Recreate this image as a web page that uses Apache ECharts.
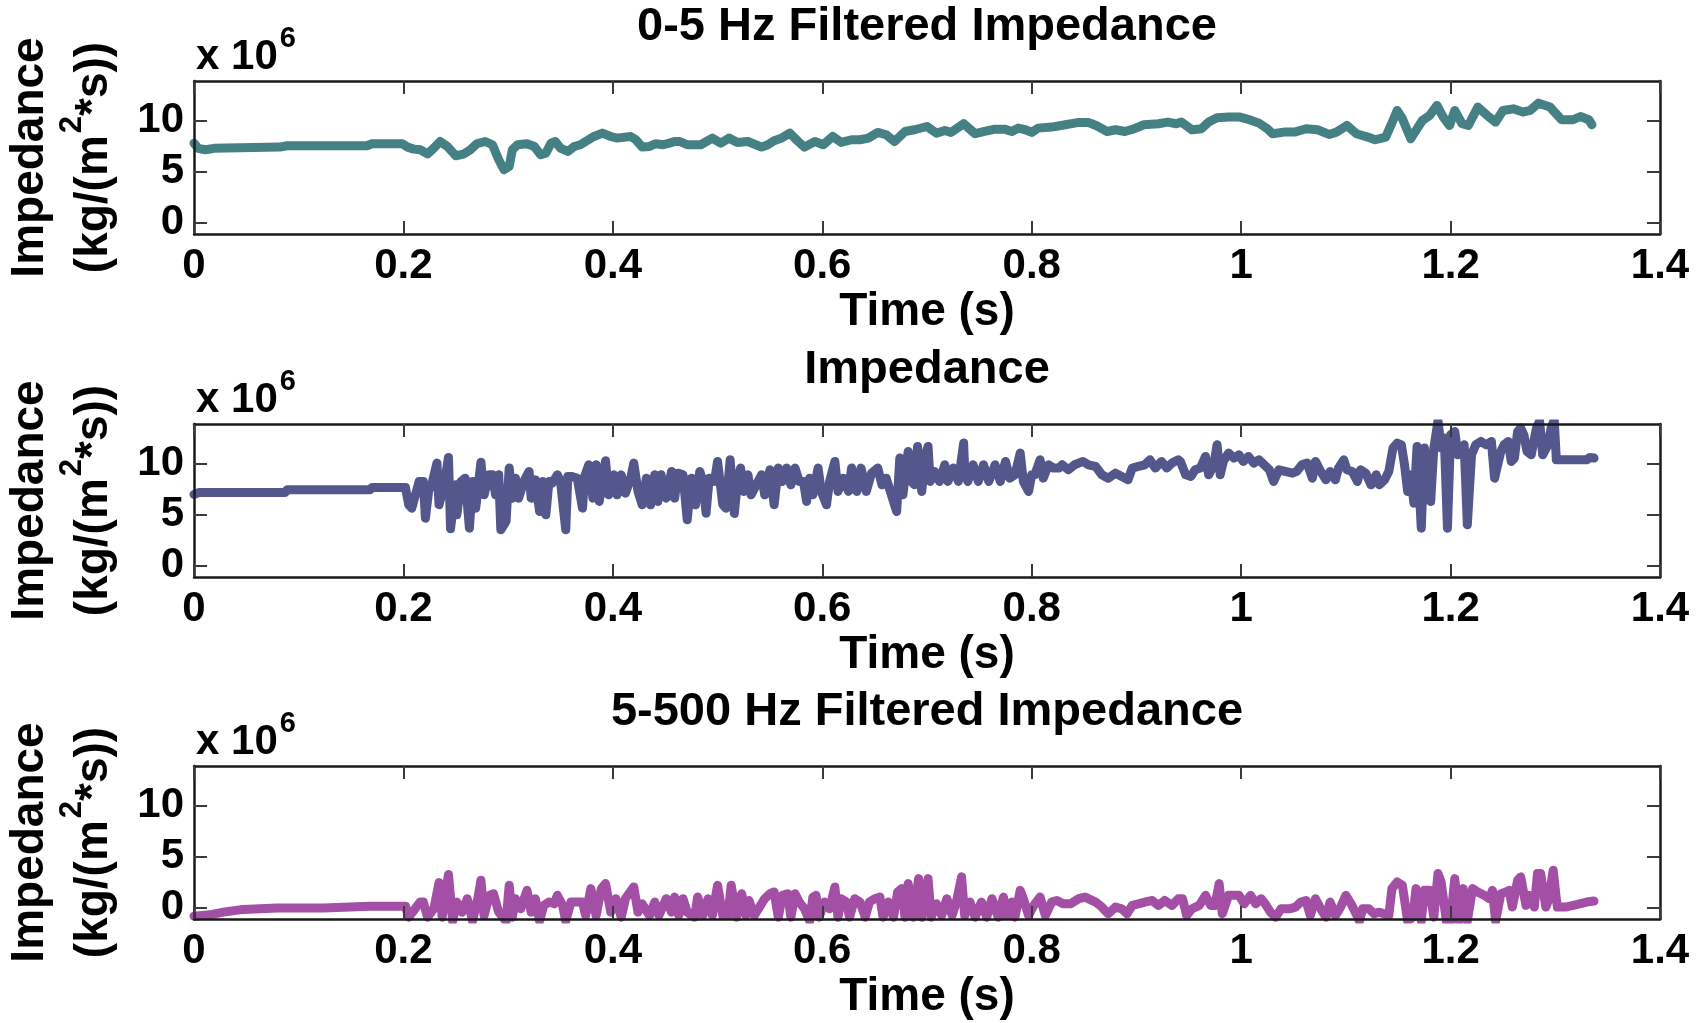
<!DOCTYPE html>
<html>
<head>
<meta charset="utf-8">
<title>Impedance</title>
<script src="https://cdn.jsdelivr.net/npm/echarts@6/dist/echarts.min.js"></script>
<style>
  html, body { margin: 0; padding: 0; background: #fff; }
  #chart { width: 1706px; height: 1023px; }
</style>
</head>
<body>
<div id="chart"></div>
<script>
// Impedance values are in units of 10^6 kg/(m^2*s); each entry is [time (s), impedance].
const lowpassImpedance = [
  [0,7.8],[0.004,7.3],[0.011,7.16],[0.019,7.3],[0.082,7.42],[0.089,7.55],[0.165,7.55],[0.17,7.75],[0.199,7.75],[0.204,7.42],
  [0.21,7.22],[0.216,7.16],[0.223,6.76],[0.229,7.32],[0.235,7.97],[0.242,7.48],[0.25,6.57],[0.258,6.76],[0.264,7.16],[0.27,7.75],
  [0.278,7.97],[0.285,7.65],[0.291,6.18],[0.296,5.2],[0.301,5.52],[0.304,7.16],[0.309,7.65],[0.318,7.75],[0.325,7.48],[0.331,6.67],
  [0.336,6.83],[0.341,7.81],[0.345,7.97],[0.35,7.32],[0.357,6.99],[0.363,7.48],[0.369,7.65],[0.374,7.97],[0.382,8.46],[0.39,8.79],
  [0.398,8.46],[0.404,8.3],[0.417,8.46],[0.422,8.14],[0.428,7.42],[0.435,7.48],[0.441,7.75],[0.448,7.65],[0.454,7.81],[0.459,7.97],
  [0.464,7.97],[0.471,7.65],[0.484,7.65],[0.495,8.3],[0.503,7.81],[0.511,8.3],[0.519,7.88],[0.529,7.97],[0.542,7.42],[0.548,7.65],
  [0.554,8.04],[0.561,8.3],[0.569,8.79],[0.577,7.97],[0.583,7.42],[0.593,7.97],[0.601,7.65],[0.61,8.46],[0.618,7.88],[0.628,8.14],
  [0.636,8.14],[0.644,8.3],[0.653,8.86],[0.661,8.63],[0.669,7.97],[0.679,8.95],[0.688,9.12],[0.7,9.44],[0.709,8.79],[0.717,9.05],
  [0.723,8.86],[0.735,9.71],[0.746,8.73],[0.755,8.95],[0.765,9.18],[0.774,9.18],[0.781,8.95],[0.787,9.28],[0.794,9.12],[0.8,8.86],
  [0.806,9.28],[0.819,9.38],[0.832,9.61],[0.845,9.84],[0.854,9.84],[0.862,9.51],[0.872,8.95],[0.88,9.12],[0.889,8.95],[0.897,9.18],
  [0.907,9.61],[0.921,9.71],[0.93,9.87],[0.938,9.71],[0.943,9.87],[0.953,9.12],[0.962,9.22],[0.969,9.87],[0.977,10.29],[0.988,10.36],
  [0.999,10.36],[1.008,10.1],[1.017,9.77],[1.025,9.22],[1.03,8.73],[1.041,8.89],[1.051,8.89],[1.062,9.22],[1.073,9.12],[1.084,8.66],
  [1.091,8.89],[1.101,9.54],[1.11,8.73],[1.121,8.4],[1.128,8.14],[1.138,8.4],[1.143,9.54],[1.149,11.01],[1.154,10.2],[1.162,8.24],
  [1.167,9.06],[1.173,10.03],[1.18,10.52],[1.187,11.5],[1.193,10.36],[1.199,9.54],[1.204,11.01],[1.211,9.71],[1.217,9.54],[1.226,11.34],
  [1.235,10.52],[1.243,9.87],[1.25,11.01],[1.26,11.17],[1.269,10.85],[1.276,11.01],[1.284,11.73],[1.295,11.34],[1.306,10.1],[1.317,10.1],
  [1.324,10.42],[1.332,10.1],[1.335,9.61]
];

const rawImpedance = [
  [0,7.0],[0.005,7.19],[0.087,7.19],[0.089,7.45],[0.168,7.45],[0.17,7.68],[0.202,7.68],[0.205,5.98],[0.208,5.65],[0.215,8.27],
  [0.219,8.27],[0.221,4.67],[0.224,7.29],[0.227,7.94],[0.232,10.07],[0.234,5.98],[0.239,7.94],[0.243,10.62],[0.245,3.63],[0.25,7.94],
  [0.251,5.0],[0.255,8.27],[0.259,8.59],[0.263,3.69],[0.266,8.27],[0.269,5.65],[0.274,10.16],[0.277,6.96],[0.282,8.92],[0.285,8.92],
  [0.288,6.96],[0.291,8.92],[0.293,3.53],[0.298,4.35],[0.301,9.58],[0.304,6.63],[0.307,8.59],[0.31,6.63],[0.315,8.27],[0.32,9.25],
  [0.322,6.63],[0.326,8.43],[0.33,5.33],[0.333,8.27],[0.336,5.0],[0.339,8.27],[0.342,8.1],[0.347,8.92],[0.35,8.27],[0.355,3.53],
  [0.357,8.76],[0.361,8.76],[0.366,8.59],[0.371,5.65],[0.373,8.76],[0.377,9.9],[0.381,6.63],[0.384,9.9],[0.387,6.31],[0.39,8.27],
  [0.393,10.29],[0.396,6.96],[0.401,8.92],[0.404,6.96],[0.408,8.92],[0.412,7.12],[0.417,8.59],[0.42,10.07],[0.424,7.29],[0.428,5.98],
  [0.432,8.59],[0.436,5.98],[0.44,8.92],[0.443,6.31],[0.446,8.92],[0.451,6.63],[0.456,9.25],[0.459,6.63],[0.462,9.08],[0.467,8.92],
  [0.471,4.51],[0.475,8.59],[0.479,5.98],[0.483,9.25],[0.486,8.27],[0.489,5.16],[0.492,8.59],[0.497,8.27],[0.5,10.23],[0.505,5.98],
  [0.508,5.65],[0.512,10.39],[0.516,5.13],[0.519,8.27],[0.522,9.58],[0.525,7.29],[0.529,8.92],[0.532,6.96],[0.537,7.94],[0.542,8.92],
  [0.545,6.96],[0.55,9.41],[0.554,5.98],[0.558,9.58],[0.562,8.27],[0.566,9.58],[0.57,7.94],[0.574,9.58],[0.578,8.27],[0.582,8.27],
  [0.585,6.31],[0.588,8.59],[0.591,6.96],[0.596,9.58],[0.599,7.29],[0.604,5.98],[0.607,8.27],[0.612,10.23],[0.615,7.29],[0.62,8.59],
  [0.625,7.29],[0.628,9.58],[0.633,7.29],[0.637,9.58],[0.642,7.29],[0.647,9.08],[0.653,9.58],[0.657,7.94],[0.661,8.59],[0.666,6.96],
  [0.671,5.33],[0.674,10.56],[0.677,6.96],[0.682,11.21],[0.685,8.27],[0.688,7.94],[0.691,11.7],[0.695,7.29],[0.698,10.56],[0.701,11.7],
  [0.703,8.27],[0.707,9.25],[0.712,8.27],[0.717,9.9],[0.72,8.27],[0.725,9.58],[0.73,8.27],[0.735,12.03],[0.736,9.25],[0.739,8.27],
  [0.744,9.9],[0.749,8.27],[0.754,9.9],[0.759,8.27],[0.765,9.9],[0.77,8.27],[0.775,10.23],[0.779,8.59],[0.784,8.92],[0.789,11.05],
  [0.792,8.27],[0.797,7.29],[0.8,8.92],[0.803,8.92],[0.808,10.39],[0.811,8.59],[0.816,9.9],[0.821,9.58],[0.826,9.58],[0.829,9.9],
  [0.835,9.41],[0.841,9.9],[0.849,10.23],[0.854,9.9],[0.861,9.74],[0.867,8.92],[0.873,8.59],[0.88,9.08],[0.886,8.76],[0.892,8.43],
  [0.896,9.58],[0.902,9.74],[0.908,9.9],[0.913,10.39],[0.918,9.58],[0.924,10.23],[0.929,9.58],[0.934,10.07],[0.94,10.39],[0.942,10.23],
  [0.947,8.92],[0.952,8.76],[0.956,9.41],[0.961,9.58],[0.966,10.72],[0.969,8.92],[0.974,9.9],[0.977,11.86],[0.98,8.92],[0.983,10.23],
  [0.988,11.05],[0.993,10.56],[0.998,10.88],[1.002,10.23],[1.007,10.72],[1.012,10.07],[1.017,10.39],[1.022,9.9],[1.027,9.41],[1.031,8.27],
  [1.036,9.41],[1.042,9.25],[1.049,9.08],[1.053,9.25],[1.058,9.9],[1.063,10.07],[1.068,8.59],[1.071,10.23],[1.076,9.25],[1.081,8.43],
  [1.085,9.25],[1.09,8.43],[1.093,9.58],[1.098,10.39],[1.101,9.41],[1.106,9.25],[1.111,8.27],[1.114,9.41],[1.119,9.08],[1.124,7.94],
  [1.129,8.92],[1.132,7.94],[1.137,8.43],[1.141,9.25],[1.145,11.54],[1.149,12.03],[1.153,11.86],[1.156,9.9],[1.159,7.29],[1.162,8.92],
  [1.165,6.14],[1.168,11.7],[1.172,3.69],[1.175,11.54],[1.178,9.25],[1.181,6.31],[1.184,11.54],[1.188,14.2],[1.191,11.54],[1.194,12.52],
  [1.197,3.69],[1.2,12.84],[1.204,13.17],[1.207,10.88],[1.21,11.54],[1.213,11.86],[1.216,4.02],[1.22,10.88],[1.224,11.86],[1.229,12.19],
  [1.234,11.86],[1.239,12.19],[1.242,8.59],[1.245,9.9],[1.248,11.21],[1.251,11.86],[1.255,12.19],[1.258,10.23],[1.261,10.56],[1.264,13.17],
  [1.267,13.5],[1.27,12.84],[1.273,11.21],[1.277,10.88],[1.282,13.5],[1.285,14.2],[1.288,10.88],[1.293,11.86],[1.296,13.5],[1.299,14.3],
  [1.301,10.39],[1.307,10.39],[1.317,10.39],[1.33,10.39],[1.333,10.62],[1.337,10.56]
];

const highpassImpedance = [
  [0,-0.82],[0.015,-0.69],[0.028,-0.43],[0.047,-0.16],[0.079,-0.03],[0.124,-0.03],[0.168,0.16],[0.202,0.16],[0.205,-0.92],[0.216,0.56],
  [0.219,0.56],[0.223,-0.92],[0.229,-0.1],[0.234,2.47],[0.237,-0.92],[0.243,3.26],[0.247,-1.3],[0.251,0.56],[0.256,-0.43],[0.261,0.89],
  [0.266,-1.3],[0.271,0.89],[0.274,2.7],[0.277,-0.76],[0.282,1.22],[0.286,1.38],[0.291,-0.43],[0.298,-1.3],[0.301,2.2],[0.304,-0.92],
  [0.307,0.89],[0.312,-0.1],[0.318,1.71],[0.322,-0.43],[0.326,0.89],[0.33,-1.3],[0.334,0.23],[0.339,0.56],[0.344,0.39],[0.347,1.22],
  [0.352,0.23],[0.355,-1.3],[0.36,0.56],[0.366,0.56],[0.371,0.56],[0.374,-0.76],[0.379,1.88],[0.384,-0.76],[0.389,1.88],[0.393,2.37],
  [0.398,-0.43],[0.403,0.89],[0.408,-0.92],[0.412,0.89],[0.42,2.04],[0.424,-0.43],[0.428,0.39],[0.435,-0.76],[0.44,0.56],[0.444,-0.76],
  [0.451,0.89],[0.456,-0.43],[0.459,1.05],[0.463,-0.76],[0.467,0.89],[0.471,-0.43],[0.478,-0.92],[0.481,1.05],[0.486,-0.76],[0.491,0.89],
  [0.495,-0.76],[0.5,2.2],[0.505,-0.76],[0.51,-0.76],[0.513,2.2],[0.518,-0.92],[0.523,1.38],[0.527,-0.76],[0.53,0.72],[0.535,-0.76],
  [0.54,0.07],[0.545,0.89],[0.55,1.38],[0.554,1.55],[0.558,-0.92],[0.562,1.22],[0.567,1.38],[0.57,-0.92],[0.574,1.38],[0.578,0.56],
  [0.583,-0.1],[0.588,-1.3],[0.591,1.05],[0.594,1.22],[0.597,-0.92],[0.602,0.56],[0.607,-0.1],[0.612,2.04],[0.615,-0.92],[0.618,0.89],
  [0.623,0.56],[0.626,-0.92],[0.631,0.89],[0.636,0.56],[0.641,-0.92],[0.645,0.56],[0.65,0.89],[0.655,1.05],[0.658,-0.92],[0.663,0.56],
  [0.668,-0.92],[0.672,1.55],[0.676,1.88],[0.679,-0.92],[0.682,2.37],[0.687,-0.92],[0.692,2.86],[0.695,-0.92],[0.701,2.86],[0.704,-0.92],
  [0.709,0.39],[0.714,-0.76],[0.719,0.89],[0.724,-0.76],[0.728,0.56],[0.733,3.03],[0.736,-0.76],[0.741,0.56],[0.746,-0.92],[0.752,0.56],
  [0.757,-0.92],[0.762,0.89],[0.768,-0.92],[0.773,1.05],[0.776,-0.76],[0.781,0.56],[0.784,-0.92],[0.789,1.71],[0.792,0.89],[0.797,-0.76],
  [0.802,0.23],[0.808,1.05],[0.813,-0.76],[0.819,0.56],[0.824,0.72],[0.83,0.39],[0.837,0.39],[0.845,0.89],[0.851,1.05],[0.861,0.56],
  [0.867,0.07],[0.873,-0.59],[0.88,0.07],[0.886,-0.1],[0.891,-0.59],[0.896,0.23],[0.902,0.39],[0.908,0.56],[0.915,0.72],[0.921,0.23],
  [0.927,0.72],[0.934,0.23],[0.94,0.89],[0.944,0.89],[0.948,-0.76],[0.953,-0.1],[0.96,0.23],[0.966,1.22],[0.971,0.23],[0.975,0.23],
  [0.979,2.37],[0.982,-0.59],[0.988,1.22],[0.993,1.22],[0.998,1.22],[1.003,0.39],[1.009,1.22],[1.014,0.39],[1.019,0.89],[1.023,0.39],
  [1.028,-0.43],[1.033,-0.92],[1.038,-0.1],[1.046,-0.1],[1.052,0.07],[1.057,0.56],[1.062,0.72],[1.066,-0.76],[1.071,0.89],[1.076,-0.1],
  [1.081,-0.92],[1.085,0.56],[1.09,-0.76],[1.095,0.07],[1.1,1.22],[1.105,0.39],[1.109,-0.43],[1.113,-1.3],[1.116,-0.1],[1.122,-0.1],
  [1.127,-0.59],[1.132,-0.43],[1.136,-0.59],[1.141,-0.76],[1.144,1.88],[1.149,2.53],[1.154,2.2],[1.159,-1.3],[1.164,-0.92],[1.167,1.88],
  [1.172,-1.3],[1.175,1.71],[1.18,1.71],[1.184,-0.92],[1.188,3.36],[1.191,2.53],[1.196,-1.3],[1.2,-1.3],[1.204,2.86],[1.208,-1.3],
  [1.212,1.88],[1.216,-1.3],[1.221,1.88],[1.226,1.55],[1.232,1.22],[1.237,0.89],[1.24,1.71],[1.243,-1.3],[1.248,1.38],[1.253,1.55],
  [1.256,1.71],[1.259,0.07],[1.264,2.7],[1.267,3.03],[1.272,0.23],[1.275,1.22],[1.28,0.07],[1.283,3.36],[1.286,3.36],[1.291,0.07],
  [1.294,0.89],[1.298,3.68],[1.301,0.89],[1.302,0.07],[1.31,0.07],[1.32,0.3],[1.33,0.56],[1.337,0.66]
];

const panelTitles = ['0-5 Hz Filtered Impedance', 'Impedance', '5-500 Hz Filtered Impedance'];
const seriesColors = ['#458084', '#53578B', '#A24FA5'];
const timeRange = [0, 1.4];
const timeStep = 0.2;
const impedanceRange = [-1.1, 13.9];
const impedanceTicks = [0, 5, 10];
const timeLabel = 'Time (s)';
const impedanceLabel = ['Impedance', '(kg/(m', '2', '*s))'];
const scaleLabel = ['x 10', '6'];

// ---- layout ----
const FONT = '"Liberation Sans", Arial, Helvetica, sans-serif';
const W = 1706;
const gridLeft = 194, gridRight = 46, panelHeight = 153;
const panelTops = [81, 424, 766];
const plotCenterX = gridLeft + (W - gridLeft - gridRight) / 2;
const panelSeries = [lowpassImpedance, rawImpedance, highpassImpedance];

const grids = [], xAxes = [], yAxes = [], series = [], graphics = [];

const boxLine = { show: true, onZero: false, lineStyle: { color: '#1a1a1a', width: 2.5 } };
const tickStyle = { show: true, inside: true, length: 13, lineStyle: { color: '#3a3a3a', width: 2 } };
const labelStyle = { color: '#000', fontSize: 42, fontWeight: 'bold', fontFamily: FONT };

// Superscript tokens sit at the top of a taller line; the base text sits at its bottom.
function superscriptRich(baseSize, supSize, lineH) {
  return {
    b: { fontSize: baseSize, fontWeight: 'bold', fontFamily: FONT, lineHeight: baseSize, verticalAlign: 'bottom', fill: '#000' },
    s: { fontSize: supSize, fontWeight: 'bold', fontFamily: FONT, lineHeight: lineH, verticalAlign: 'top', fill: '#000', padding: [0, 0, 0, 2] }
  };
}

panelTitles.forEach((title, i) => {
  const top = panelTops[i];
  grids.push({ left: gridLeft, right: gridRight, top: top, height: panelHeight, containLabel: false });

  ['bottom', 'top'].forEach(pos => {
    xAxes.push({
      type: 'value', gridIndex: i, position: pos,
      min: timeRange[0], max: timeRange[1], interval: timeStep,
      axisLine: boxLine, axisTick: tickStyle, splitLine: { show: false },
      axisLabel: pos === 'bottom' ? Object.assign({ margin: 11 }, labelStyle) : { show: false },
      z: 5
    });
  });
  ['left', 'right'].forEach(pos => {
    yAxes.push({
      type: 'value', gridIndex: i, position: pos,
      min: impedanceRange[0], max: impedanceRange[1],
      axisLine: boxLine,
      axisTick: Object.assign({ customValues: impedanceTicks }, tickStyle),
      splitLine: { show: false },
      axisLabel: pos === 'left'
        ? Object.assign({ margin: 10, customValues: impedanceTicks }, labelStyle)
        : { show: false },
      z: 5
    });
  });

  series.push({
    type: 'line', name: title,
    xAxisIndex: 2 * i, yAxisIndex: 2 * i,
    data: panelSeries[i],
    showSymbol: false, symbol: 'none', clip: true, silent: true,
    lineStyle: { color: seriesColors[i], width: 9, cap: 'round', join: 'round' }
  });

  // panel title
  graphics.push({
    type: 'text', x: plotCenterX, y: top - 54,
    style: { text: title, font: 'bold 47px ' + FONT, fill: '#000', align: 'center', verticalAlign: 'middle' }
  });
  // x-axis name
  graphics.push({
    type: 'text', x: plotCenterX, y: top + 231,
    style: { text: timeLabel, font: 'bold 46px ' + FONT, fill: '#000', align: 'center', verticalAlign: 'middle' }
  });
  // exponent note above the y axis
  graphics.push({
    type: 'text', x: gridLeft + 2, y: top - 30,
    style: {
      text: '{b|' + scaleLabel[0] + '}{s|' + scaleLabel[1] + '}',
      fill: '#000', align: 'left', verticalAlign: 'middle',
      rich: superscriptRich(42, 29, 54)
    }
  });
  // y-axis name, two rotated lines
  const midY = top + panelHeight / 2;
  graphics.push({
    type: 'text', x: 30, y: midY, rotation: Math.PI / 2,
    style: { text: impedanceLabel[0], font: 'bold 46px ' + FONT, fill: '#000', align: 'center', verticalAlign: 'middle' }
  });
  graphics.push({
    type: 'text', x: 87, y: midY, rotation: Math.PI / 2,
    style: {
      text: '{b|' + impedanceLabel[1] + '}{s|' + impedanceLabel[2] + '}{b|' + impedanceLabel[3] + '}',
      fill: '#000', align: 'center', verticalAlign: 'middle',
      rich: superscriptRich(46, 31, 60)
    }
  });
});

const chart = echarts.init(document.getElementById('chart'), null, { renderer: 'canvas' });
chart.setOption({
  animation: false,
  backgroundColor: '#fff',
  textStyle: { fontFamily: FONT },
  grid: grids,
  xAxis: xAxes,
  yAxis: yAxes,
  series: series,
  graphic: graphics
});
</script>
</body>
</html>
